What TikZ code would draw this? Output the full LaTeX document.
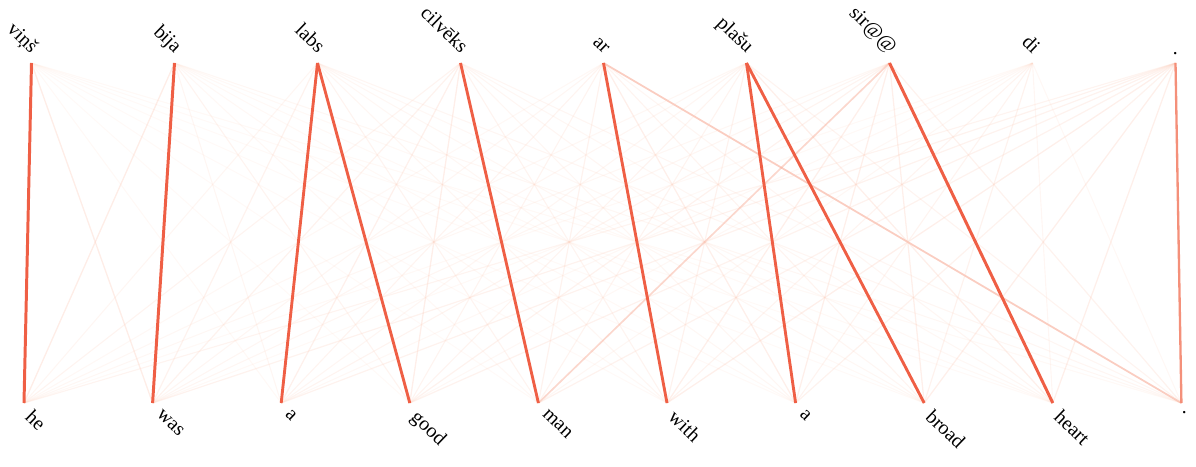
\documentclass[tikz,border=0pt]{standalone}
\usepackage{fontspec}
\usetikzlibrary{calc}
\setmainfont{Liberation Serif}
\definecolor{lo}{HTML}{FDDCCB}
\definecolor{hi}{HTML}{EF5F45}
\tikzset{
  toplab/.style={font=\fontsize{20}{22}\selectfont, rotate=-44, anchor=base east, inner sep=0pt},
  botlab/.style={font=\fontsize{20}{22}\selectfont, rotate=-44, anchor=north west, inner sep=0pt},
}
\begin{document}
\begin{tikzpicture}[x=1pt,y=-1pt]
\useasboundingbox (0,0) rectangle (1196,466);
% end points
\foreach \i in {1,...,9} {\coordinate (t\i) at ({31.5+143*(\i-1)},63);}
\foreach \j in {1,...,10} {\coordinate (b\j) at ({24+128.6*(\j-1)},403);}
% weights: row = top word, entries = bottom words
\def\W{{%
{.9,.15,.03,.02,.02,.02,.02,.02,.02,.03},%
{.15,.9,.06,.08,.04,.04,.03,.03,.03,.05},%
{.06,.1,.85,.85,.08,.06,.05,.05,.04,.06},%
{.08,.1,.12,.14,.85,.08,.06,.06,.05,.06},%
{.04,.06,.08,.08,.1,.85,.13,.08,.06,.35},%
{.05,.06,.06,.08,.08,.1,.85,.85,.13,.08},%
{.05,.06,.08,.1,.3,.13,.13,.13,.9,.1},%
{.03,.03,.04,.04,.05,.08,.08,.1,.06,.04},%
{.08,.1,.1,.1,.1,.13,.1,.13,.13,.6}}}
% two passes: faint lines first, strong on top
\foreach \pass in {0,1} {
  \foreach \i in {1,...,9} {
    \foreach \j in {1,...,10} {
      \pgfmathtruncatemacro{\ii}{\i-1}
      \pgfmathtruncatemacro{\jj}{\j-1}
      \pgfmathsetmacro{\w}{\W[\ii][\jj]}
      \pgfmathtruncatemacro{\isstrong}{\w>=0.5 ? 1 : 0}
      \ifnum\isstrong=\pass
        \pgfmathsetmacro{\pc}{min(100,100*\w/0.85)}
        \pgfmathsetmacro{\op}{min(1,0.12+1.3*\w)}
        \pgfmathsetmacro{\lw}{1+2.2*\w}
        \draw[draw=hi!\pc!lo, draw opacity=\op, line width=\lw pt] (t\i) -- (b\j);
      \fi
    }
  }
}
% labels
\node[toplab] (lt1) at ($(t1)+(-1,-9)$) {viņš};
\node[toplab] (lt2) at ($(t2)+(0,-9)$) {bija};
\node[toplab] (lt3) at ($(t3)+(0,-9)$) {labs};
\node[toplab] (lt4) at ($(t4)+(0,-9)$) {cilvēks};
\node[toplab] (lt5) at ($(t5)+(0,-9)$) {ar};
\node[toplab] (lt6) at ($(t6)+(0,-9)$) {plašu};
\node[toplab] (lt7) at ($(t7)+(0,-9)$) {sir@@};
\node[toplab] (lt8) at ($(t8)+(0,-9)$) {di};
\node[toplab] (lt9) at ($(t9)+(1,-7)$) {.};
\node[botlab] (lb1) at ($(b1)+(10,5)$) {he};
\node[botlab] (lb2) at ($(b2)+(10,5)$) {was};
\node[botlab] (lb3) at ($(b3)+(10,5)$) {a};
\node[botlab] (lb4) at ($(b4)+(10,5)$) {good};
\node[botlab] (lb5) at ($(b5)+(10,5)$) {man};
\node[botlab] (lb6) at ($(b6)+(10,5)$) {with};
\node[botlab] (lb7) at ($(b7)+(10,5)$) {a};
\node[botlab] (lb8) at ($(b8)+(10,5)$) {broad};
\node[botlab] (lb9) at ($(b9)+(10,5)$) {heart};
\node[botlab] (lb10) at ($(b10)+(2,7)$) {.};
\end{tikzpicture}
\end{document}
